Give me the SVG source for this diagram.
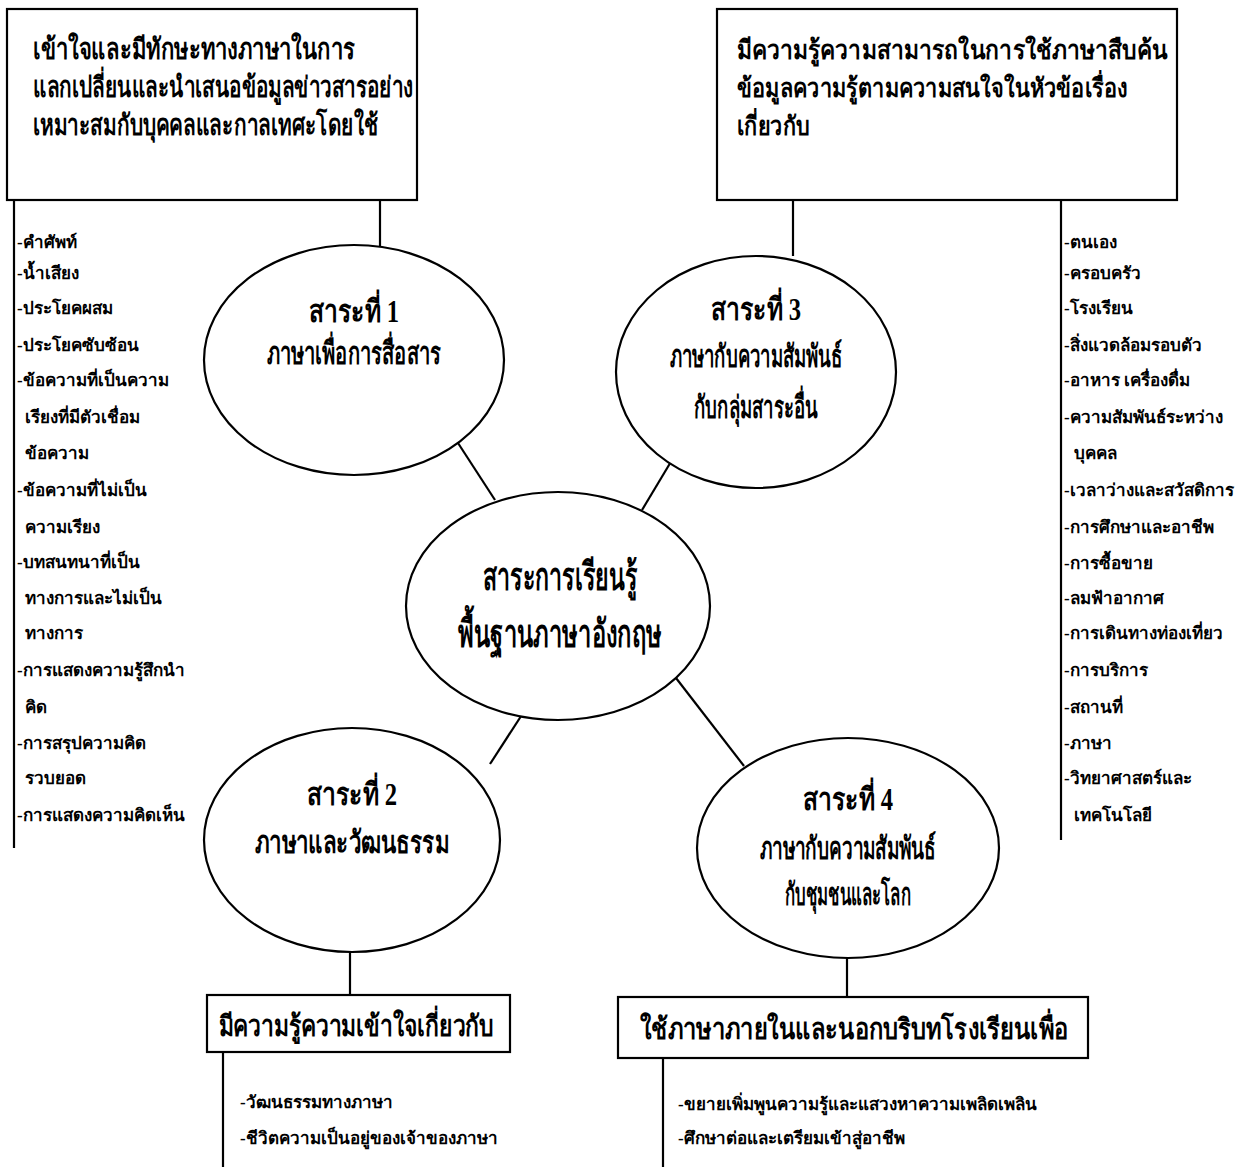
<svg xmlns="http://www.w3.org/2000/svg" width="1247" height="1167" viewBox="0 0 1247 1167">
<style>
  .bg{fill:#fff}
  .box{fill:#fff;stroke:#000;stroke-width:2.2}
  .ell{fill:#fff;stroke:#000;stroke-width:2.2}
  .ln{stroke:#000;stroke-width:2.2;fill:none}
  .t{font-family:"Liberation Serif","Noto Sans",serif;fill:#000}
  .bt{font-size:29px;font-weight:bold}
  .bt2{font-size:26px;font-weight:bold}
  .et{font-size:31px;text-anchor:middle;font-weight:bold}
  .ct{font-size:39px;text-anchor:middle;font-weight:bold}
  .lt{font-size:17px;font-weight:bold}
  .st{font-size:29px;text-anchor:middle;font-weight:bold}
</style>
<rect class="bg" x="0" y="0" width="1247" height="1167"/>
<g id="connectors">
  <line class="ln" x1="380" y1="200" x2="380" y2="246"/>
  <line class="ln" x1="793" y1="200" x2="793" y2="256"/>
  <line class="ln" x1="14" y1="200" x2="14" y2="848"/>
  <line class="ln" x1="1061" y1="200" x2="1061" y2="840"/>
  <line class="ln" x1="458" y1="443" x2="495" y2="500"/>
  <line class="ln" x1="675" y1="455" x2="642" y2="510"/>
  <line class="ln" x1="525" y1="710" x2="490" y2="764"/>
  <line class="ln" x1="676" y1="678" x2="744" y2="766"/>
  <line class="ln" x1="350" y1="952" x2="350" y2="995"/>
  <line class="ln" x1="847" y1="958" x2="847" y2="997"/>
  <line class="ln" x1="223" y1="1052" x2="223" y2="1167"/>
  <line class="ln" x1="663" y1="1058" x2="663" y2="1167"/>
</g>
<g id="box-top-left">
  <rect class="box" x="7" y="9" width="410" height="191"/>
  <text class="t bt" x="33" y="59" textLength="322" lengthAdjust="spacingAndGlyphs">เข้าใจและมีทักษะทางภาษาในการ</text>
  <text class="t bt" x="33" y="97" textLength="380" lengthAdjust="spacingAndGlyphs">แลกเปลี่ยนและนำเสนอข้อมูลข่าวสารอย่าง</text>
  <text class="t bt" x="33" y="135" textLength="345" lengthAdjust="spacingAndGlyphs">เหมาะสมกับบุคคลและกาลเทศะโดยใช้</text>
</g>
<g id="box-top-right">
  <rect class="box" x="717" y="9" width="460" height="191"/>
  <text class="t bt2" x="737" y="59" textLength="431" lengthAdjust="spacingAndGlyphs">มีความรู้ความสามารถในการใช้ภาษาสืบค้น</text>
  <text class="t bt2" x="737" y="97" textLength="391" lengthAdjust="spacingAndGlyphs">ข้อมูลความรู้ตามความสนใจในหัวข้อเรื่อง</text>
  <text class="t bt2" x="737" y="135" textLength="73" lengthAdjust="spacingAndGlyphs">เกี่ยวกับ</text>
</g>
<g id="list-left" class="t lt">
  <text x="17" y="248">-คำศัพท์</text>
  <text x="17" y="279">-น้ำเสียง</text>
  <text x="17" y="314">-ประโยคผสม</text>
  <text x="17" y="351">-ประโยคซับซ้อน</text>
  <text x="17" y="386">-ข้อความที่เป็นความ</text>
  <text x="25" y="423">เรียงที่มีตัวเชื่อม</text>
  <text x="25" y="459">ข้อความ</text>
  <text x="17" y="496">-ข้อความที่ไม่เป็น</text>
  <text x="25" y="533">ความเรียง</text>
  <text x="17" y="568">-บทสนทนาที่เป็น</text>
  <text x="25" y="604">ทางการและไม่เป็น</text>
  <text x="25" y="639">ทางการ</text>
  <text x="17" y="676">-การแสดงความรู้สึกนำ</text>
  <text x="25" y="713">คิด</text>
  <text x="17" y="749">-การสรุปความคิด</text>
  <text x="25" y="784">รวบยอด</text>
  <text x="17" y="821">-การแสดงความคิดเห็น</text>
</g>
<g id="list-right" class="t lt">
  <text x="1064" y="248">-ตนเอง</text>
  <text x="1064" y="279">-ครอบครัว</text>
  <text x="1064" y="314">-โรงเรียน</text>
  <text x="1064" y="351">-สิ่งแวดล้อมรอบตัว</text>
  <text x="1064" y="386">-อาหาร เครื่องดื่ม</text>
  <text x="1064" y="423">-ความสัมพันธ์ระหว่าง</text>
  <text x="1074" y="459">บุคคล</text>
  <text x="1064" y="496">-เวลาว่างและสวัสดิการ</text>
  <text x="1064" y="533">-การศึกษาและอาชีพ</text>
  <text x="1064" y="569">-การซื้อขาย</text>
  <text x="1064" y="604">-ลมฟ้าอากาศ</text>
  <text x="1064" y="639">-การเดินทางท่องเที่ยว</text>
  <text x="1064" y="676">-การบริการ</text>
  <text x="1064" y="713">-สถานที่</text>
  <text x="1064" y="749">-ภาษา</text>
  <text x="1064" y="784">-วิทยาศาสตร์และ</text>
  <text x="1074" y="821">เทคโนโลยี</text>
</g>
<g id="node-1">
  <ellipse class="ell" cx="354" cy="360" rx="150" ry="115"/>
  <text class="t et" x="354" y="322" textLength="90" lengthAdjust="spacingAndGlyphs">สาระที่ 1</text>
  <text class="t et" x="354" y="364" textLength="174" lengthAdjust="spacingAndGlyphs">ภาษาเพื่อการสื่อสาร</text>
</g>
<g id="node-3">
  <ellipse class="ell" cx="756" cy="372" rx="140" ry="116"/>
  <text class="t et" x="756" y="320" textLength="90" lengthAdjust="spacingAndGlyphs">สาระที่ 3</text>
  <text class="t et" x="756" y="367" textLength="172" lengthAdjust="spacingAndGlyphs">ภาษากับความสัมพันธ์</text>
  <text class="t et" x="756" y="418" textLength="124" lengthAdjust="spacingAndGlyphs">กับกลุ่มสาระอื่น</text>
</g>
<g id="node-center">
  <ellipse class="ell" cx="558" cy="606" rx="152" ry="114"/>
  <text class="t ct" x="560" y="590" textLength="154" lengthAdjust="spacingAndGlyphs">สาระการเรียนรู้</text>
  <text class="t ct" x="560" y="647" textLength="204" lengthAdjust="spacingAndGlyphs">พื้นฐานภาษาอังกฤษ</text>
</g>
<g id="node-2">
  <ellipse class="ell" cx="352" cy="840" rx="148" ry="112"/>
  <text class="t et" x="352" y="805" textLength="90" lengthAdjust="spacingAndGlyphs">สาระที่ 2</text>
  <text class="t et" x="352" y="853" textLength="194" lengthAdjust="spacingAndGlyphs">ภาษาและวัฒนธรรม</text>
</g>
<g id="node-4">
  <ellipse class="ell" cx="848" cy="848" rx="151" ry="110"/>
  <text class="t et" x="848" y="810" textLength="90" lengthAdjust="spacingAndGlyphs">สาระที่ 4</text>
  <text class="t et" x="848" y="859" textLength="176" lengthAdjust="spacingAndGlyphs">ภาษากับความสัมพันธ์</text>
  <text class="t et" x="848" y="905" textLength="126" lengthAdjust="spacingAndGlyphs">กับชุมชนและโลก</text>
</g>
<g id="box-bottom-left">
  <rect class="box" x="207" y="995" width="303" height="57"/>
  <text class="t st" x="356" y="1036" textLength="275" lengthAdjust="spacingAndGlyphs">มีความรู้ความเข้าใจเกี่ยวกับ</text>
</g>
<g id="box-bottom-right">
  <rect class="box" x="618" y="997" width="470" height="61"/>
  <text class="t st" x="854" y="1039" textLength="428" lengthAdjust="spacingAndGlyphs">ใช้ภาษาภายในและนอกบริบทโรงเรียนเพื่อ</text>
</g>
<g id="list-bottom-left" class="t lt">
  <text x="240" y="1108">-วัฒนธรรมทางภาษา</text>
  <text x="240" y="1144">-ชีวิตความเป็นอยู่ของเจ้าของภาษา</text>
</g>
<g id="list-bottom-right" class="t lt">
  <text x="678" y="1110">-ขยายเพิ่มพูนความรู้และแสวงหาความเพลิดเพลิน</text>
  <text x="678" y="1144">-ศึกษาต่อและเตรียมเข้าสู่อาชีพ</text>
</g>
</svg>
